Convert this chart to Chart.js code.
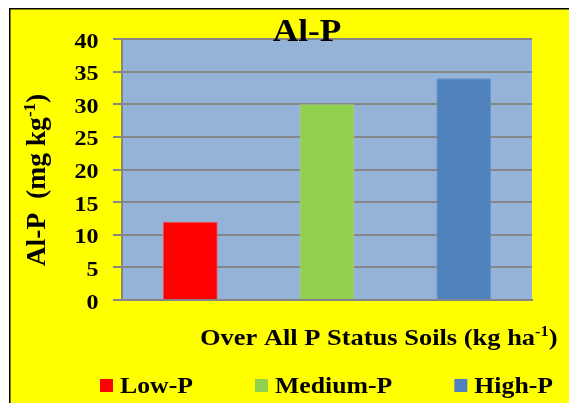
<!DOCTYPE html>
<html>
<head>
<meta charset="utf-8">
<script src="https://cdn.jsdelivr.net/npm/chart.js@4.4.1/dist/chart.umd.min.js"></script>
<style>
  html, body { margin: 0; padding: 0; background: #ffffff; }
  canvas { display: block; }
</style>
</head>
<body>
<canvas id="alpChart" width="569" height="403"></canvas>
<script>
// soil P status groups and their Al-P content (mg/kg)
const categories = ['Low-P', 'Medium-P', 'High-P'];
const alpValues = [12, 30, 34];
const barColors = ['#ff0000', '#92d050', '#4f81bd'];
const barEdges = ['#f04a55', '#a3d86a', '#6a95c9'];
const yTicks = [0, 5, 10, 15, 20, 25, 30, 35, 40];

const SERIF = "'Liberation Serif', 'Times New Roman', serif";

// draws a run of text pieces (some superscript) squeezed/stretched horizontally
function drawParts(ctx, parts, x, y, size, sx, align) {
  const widths = parts.map(p => {
    ctx.font = 'bold ' + (p.sup ? size * 0.62 : size) + 'px ' + SERIF;
    return ctx.measureText(p.t).width;
  });
  const total = widths.reduce((a, b) => a + b, 0);
  ctx.save();
  ctx.translate(x, y);
  ctx.scale(sx, 1);
  let cx = align === 'center' ? -total / 2 : align === 'right' ? -total : 0;
  ctx.fillStyle = '#000000';
  ctx.textAlign = 'left';
  ctx.textBaseline = 'alphabetic';
  parts.forEach((p, i) => {
    ctx.font = 'bold ' + (p.sup ? size * 0.62 : size) + 'px ' + SERIF;
    ctx.fillText(p.t, cx, p.sup ? -size * 0.38 : 0);
    cx += widths[i];
  });
  ctx.restore();
  return total * sx;
}

// yellow frame behind everything plus the blue plot area
const framePlugin = {
  id: 'frame',
  beforeDraw(chart) {
    const ctx = chart.ctx;
    const a = chart.chartArea;
    ctx.save();
    ctx.fillStyle = '#ffffff';
    ctx.fillRect(0, 0, chart.width, chart.height);
    ctx.fillStyle = '#ffff00';
    ctx.fillRect(10, 9, chart.width - 10, chart.height - 9);
    ctx.fillStyle = '#000000';
    ctx.fillRect(9, 8, chart.width - 9, 1.5);
    ctx.fillRect(9, 8, 1.5, chart.height - 8);
    ctx.fillStyle = '#95b3d7';
    ctx.fillRect(a.left, a.top, a.right - a.left, a.bottom - a.top);
    ctx.restore();
  }
};

// titles, tick labels and legend
const textPlugin = {
  id: 'texts',
  afterDraw(chart) {
    const ctx = chart.ctx;
    const y = chart.scales.y;

    y.ticks.forEach(t => {
      drawParts(ctx, [{ t: String(t.value) }], 98.5, y.getPixelForValue(t.value) + 8.5, 20, 1.2, 'right');
    });

    drawParts(ctx, [{ t: 'Al-P' }], 307, 41, 31, 1.14, 'center');

    ctx.save();
    ctx.translate(45, 180);
    ctx.rotate(-Math.PI / 2);
    drawParts(ctx, [{ t: 'Al-P  (mg kg' }, { t: '-1', sup: true }, { t: ')' }], 0, 0, 27, 1.02, 'center');
    ctx.restore();

    drawParts(ctx, [{ t: 'Over All P Status Soils (kg ha' }, { t: '-1', sup: true }, { t: ')' }], 200, 345, 23, 1.15, 'left');

    // legend row
    let lx = 100;
    categories.forEach((c, i) => {
      ctx.fillStyle = barColors[i];
      ctx.fillRect(lx, 379, 13, 13);
      const w = drawParts(ctx, [{ t: c }], lx + 20, 393, 23, 1.12, 'left');
      lx += 20 + w + 62;
    });
  }
};

new Chart(document.getElementById('alpChart'), {
  type: 'bar',
  data: {
    labels: categories,
    datasets: [{
      data: alpValues,
      backgroundColor: barColors,
      borderColor: barEdges,
      borderWidth: 1,
      categoryPercentage: 1,
      barPercentage: 0.4
    }]
  },
  options: {
    responsive: false,
    animation: false,
    devicePixelRatio: 1,
    layout: { padding: { left: 113, right: 37, top: 39, bottom: 103 } },
    plugins: {
      legend: { display: false },
      title: { display: false },
      tooltip: { enabled: false }
    },
    scales: {
      x: {
        grid: { display: false },
        ticks: { display: false },
        border: { display: true, color: '#868686', width: 2 },
        afterFit(scale) { scale.height = 0; }
      },
      y: {
        min: 0,
        max: 40,
        afterBuildTicks(scale) { scale.ticks = yTicks.map(v => ({ value: v })); },
        ticks: { display: false },
        grid: { color: '#868686', lineWidth: 2, drawTicks: true, tickLength: 9 },
        border: { display: true, color: '#868686', width: 2 },
        afterFit(scale) { scale.width = 9; }
      }
    }
  },
  plugins: [framePlugin, textPlugin]
});
</script>
</body>
</html>
